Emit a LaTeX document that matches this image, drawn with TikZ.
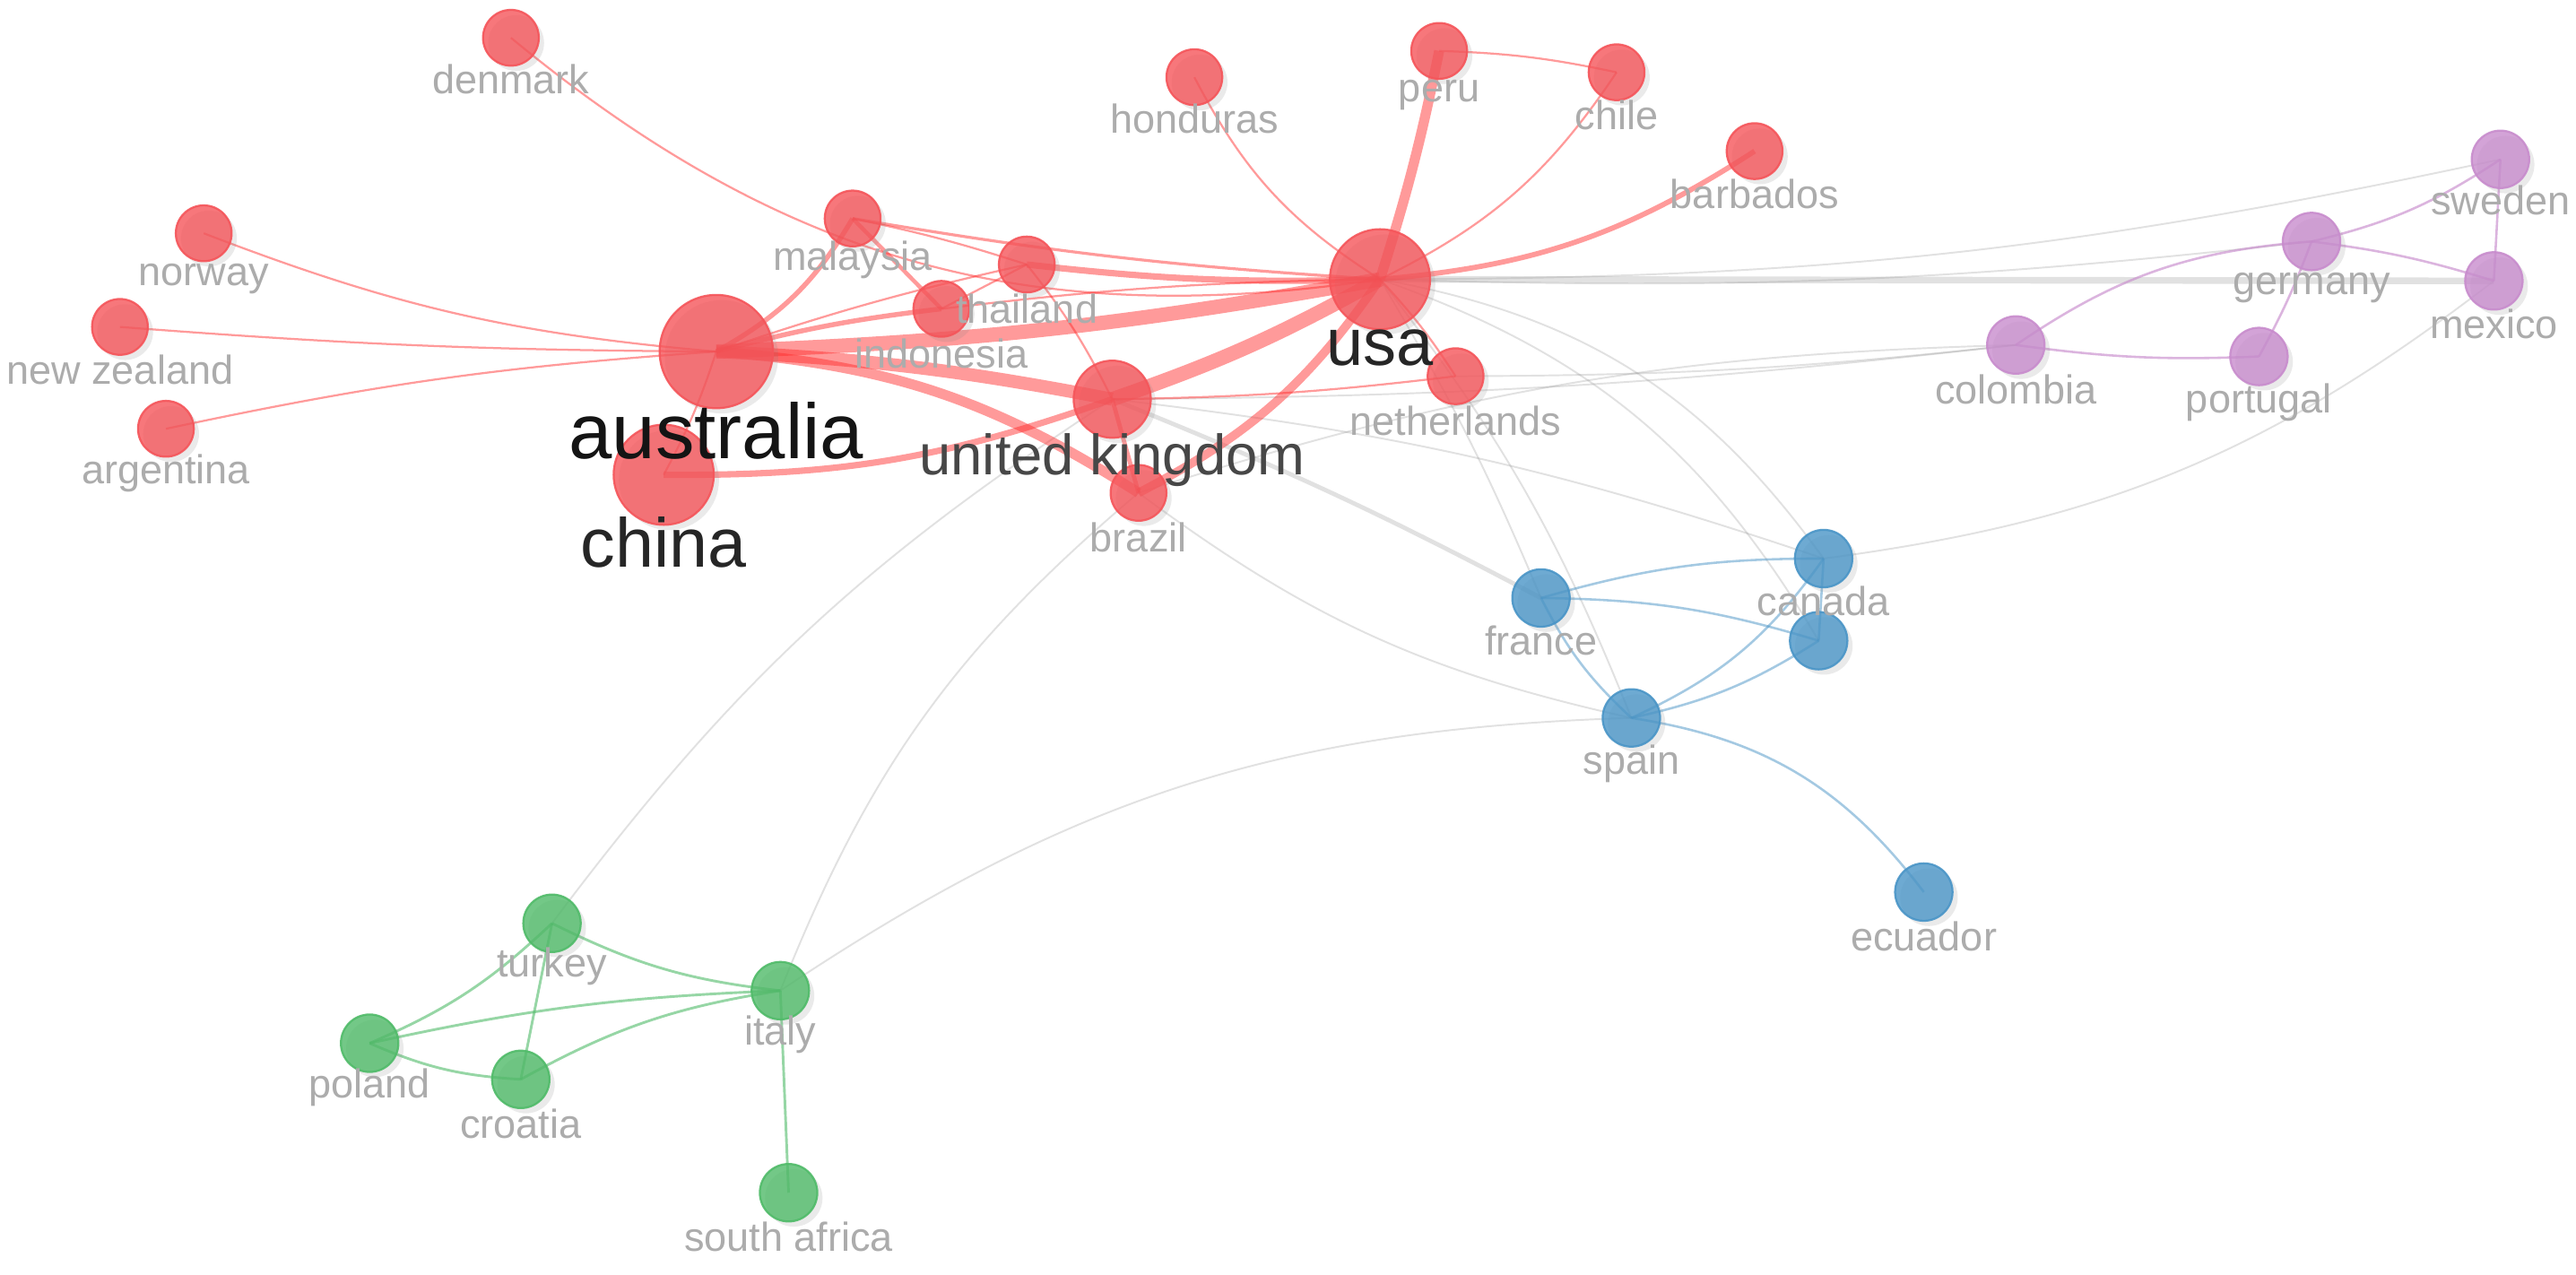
\documentclass[tikz,border=0pt]{standalone}
\usepackage{fontspec}
\setmainfont{Liberation Sans}
\usetikzlibrary{shadows}
\definecolor{nred}{RGB}{245,85,90}
\definecolor{npur}{RGB}{200,140,205}
\definecolor{nblu}{RGB}{74,149,199}
\definecolor{ngrn}{RGB}{80,187,105}
\definecolor{ered}{RGB}{255,45,45}
\definecolor{egry}{RGB}{140,140,140}
\definecolor{lgry}{RGB}{172,172,172}
\begin{document}
\begin{tikzpicture}[x=0.02cm,y=-0.02cm,
  cnode/.style={circle, inner sep=0pt, fill opacity=0.8, draw opacity=0.9, line width=0.7pt,
    drop shadow={shadow xshift=1.8pt,shadow yshift=-1.8pt,opacity=0.16}},
  rn/.style={cnode, fill=nred, draw=nred, minimum size=#1}, rn/.default=0.68cm,
  pn/.style={cnode, fill=npur, draw=npur, minimum size=0.7cm},
  bn/.style={cnode, fill=nblu, draw=nblu, minimum size=0.7cm},
  gn/.style={cnode, fill=ngrn, draw=ngrn, minimum size=0.7cm},
  lab/.style={text=lgry, font=\fontsize{14}{14}\selectfont, inner sep=0pt},
  redge/.style={draw=ered, draw opacity=0.48, line width=#1}, redge/.default=0.7pt,
  gedge/.style={draw=egry, draw opacity=0.26, line width=#1}, gedge/.default=0.6pt,
  pedge/.style={draw=npur, draw opacity=0.65, line width=0.8pt},
  bedge/.style={draw=nblu, draw opacity=0.5, line width=0.8pt},
  gnedge/.style={draw=ngrn, draw opacity=0.6, line width=0.9pt}
]
\fill[white] (0,0) rectangle (1568,776);
\useasboundingbox (0,0) rectangle (1568,776);

% ---- node coordinates ----
\path
 (311,23)  coordinate (c-den)
 (124,142) coordinate (c-nor)
 (73,199)  coordinate (c-nz)
 (101,261) coordinate (c-arg)
 (436,214) coordinate (c-aus)
 (404,289) coordinate (c-chn)
 (519,133) coordinate (c-mal)
 (625,161) coordinate (c-tha)
 (573,188) coordinate (c-ind)
 (677,243) coordinate (c-uk)
 (693,300) coordinate (c-bra)
 (840,170) coordinate (c-usa)
 (886,229) coordinate (c-ned)
 (727,47)  coordinate (c-hon)
 (876,31)  coordinate (c-per)
 (984,44)  coordinate (c-chl)
 (1068,92) coordinate (c-bar)
 (1522,97) coordinate (c-swe)
 (1407,147) coordinate (c-ger)
 (1518,171) coordinate (c-mex)
 (1227,210) coordinate (c-col)
 (1375,217) coordinate (c-por)
 (1110,340) coordinate (c-can)
 (938,364) coordinate (c-fra)
 (1107,390) coordinate (c-unk)
 (993,437) coordinate (c-spa)
 (1171,543) coordinate (c-ecu)
 (336,562) coordinate (c-tur)
 (475,603) coordinate (c-ita)
 (225,635) coordinate (c-pol)
 (317,657) coordinate (c-cro)
 (480,726) coordinate (c-saf);

% ---- gray inter-cluster edges ----
\draw[gedge=2.3pt] (c-usa) -- (c-mex);
\draw[gedge=1.5pt] (c-uk) to[bend left=3] (c-fra);
\draw[gedge] (c-usa) to[bend right=6] (c-swe);
\draw[gedge] (c-usa) to[bend right=4] (c-ger);
\draw[gedge] (c-usa) to[bend left=22] (c-can);
\draw[gedge] (c-usa) to[bend left=20] (c-unk);
\draw[gedge] (c-usa) to[bend left=8] (c-spa);
\draw[gedge] (c-usa) to[bend left=4] (c-fra);
\draw[gedge] (c-uk) to[bend right=3] (c-col);
\draw[gedge] (c-ned) to[bend right=3] (c-col);
\draw[gedge] (c-bra) to[bend left=8] (c-col);
\draw[gedge] (c-uk) to[bend left=6] (c-can);
\draw[gedge] (c-bra) to[bend right=12] (c-spa);
\draw[gedge] (c-ita) to[bend left=16] (c-spa);
\draw[gedge] (c-ita) to[bend left=14] (c-bra);
\draw[gedge] (c-tur) to[bend left=10] (c-uk);
\draw[gedge] (c-can) to[bend right=15] (c-mex);

% ---- purple edges ----
\draw[pedge] (c-ger) to[bend right=10] (c-swe);
\draw[pedge] (c-ger) to[bend left=5] (c-mex);
\draw[pedge] (c-swe) -- (c-mex);
\draw[pedge] (c-col) to[bend left=15] (c-ger);
\draw[pedge] (c-ger) to[bend left=4] (c-por);
\draw[pedge] (c-col) to[bend right=5] (c-por);

% ---- blue edges ----
\draw[bedge] (c-fra) to[bend left=8] (c-can);
\draw[bedge] (c-fra) to[bend left=8] (c-unk);
\draw[bedge] (c-fra) to[bend right=10] (c-spa);
\draw[bedge] (c-spa) to[bend right=15] (c-can);
\draw[bedge] (c-spa) to[bend right=10] (c-unk);
\draw[bedge] (c-can) -- (c-unk);
\draw[bedge] (c-spa) to[bend left=22] (c-ecu);

% ---- green edges ----
\draw[gnedge] (c-tur) to[bend right=10] (c-ita);
\draw[gnedge] (c-pol) to[bend right=10] (c-tur);
\draw[gnedge] (c-tur) -- (c-cro);
\draw[gnedge] (c-pol) to[bend left=5] (c-ita);
\draw[gnedge] (c-cro) to[bend left=10] (c-ita);
\draw[gnedge] (c-pol) to[bend right=10] (c-cro);
\draw[gnedge] (c-ita) -- (c-saf);

% ---- red edges ----
\draw[redge] (c-aus) to[bend left=8] (c-nor);
\draw[redge] (c-aus) to[bend left=2] (c-nz);
\draw[redge] (c-aus) to[bend right=4] (c-arg);
\draw[redge] (c-aus) to[bend left=5] (c-chn);
\draw[redge=1.7pt] (c-aus) to[bend right=15] (c-mal);
\draw[redge=1.7pt] (c-aus) to[bend left=4] (c-ind);
\draw[redge] (c-aus) to[bend left=3] (c-tha);
\draw[redge=5pt] (c-aus) to[bend right=4] (c-usa);
\draw[redge=4.5pt] (c-aus) to[bend left=4] (c-uk);
\draw[redge=3.5pt] (c-aus) to[bend left=14] (c-bra);
\draw[redge=2.2pt] (c-chn) to[bend right=10] (c-uk);
\draw[redge=5pt] (c-uk) to[bend right=5] (c-usa);
\draw[redge=3pt] (c-bra) to[bend right=14] (c-usa);
\draw[redge=1.5pt] (c-uk) -- (c-bra);
\draw[redge] (c-uk) to[bend right=3] (c-ned);
\draw[redge] (c-usa) to[bend left=5] (c-ned);
\draw[redge=3.5pt] (c-usa) to[bend right=3] (c-per);
\draw[redge] (c-usa) to[bend left=15] (c-hon);
\draw[redge] (c-usa) to[bend right=15] (c-chl);
\draw[redge=1.8pt] (c-usa) to[bend right=14] (c-bar);
\draw[redge] (c-per) to[bend left=5] (c-chl);
\draw[redge] (c-den) to[bend right=24] (c-usa);
\draw[redge=1.4pt] (c-mal) -- (c-ind);
\draw[redge] (c-mal) to[bend left=3] (c-tha);
\draw[redge=1pt] (c-mal) to[bend right=3] (c-usa);
\draw[redge=2.2pt] (c-tha) to[bend right=4] (c-usa);
\draw[redge] (c-ind) to[bend left=3] (c-usa);
\draw[redge] (c-ind) -- (c-tha);
\draw[redge] (c-tha) to[bend left=6] (c-uk);

% ---- nodes ----
\node[rn] (den) at (c-den) {};
\node[rn] (nor) at (c-nor) {};
\node[rn] (nz)  at (c-nz) {};
\node[rn] (arg) at (c-arg) {};
\node[rn=1.38cm] (aus) at (c-aus) {};
\node[rn=1.22cm] (chn) at (c-chn) {};
\node[rn] (mal) at (c-mal) {};
\node[rn] (tha) at (c-tha) {};
\node[rn] (ind) at (c-ind) {};
\node[rn=0.94cm] (uk) at (c-uk) {};
\node[rn] (bra) at (c-bra) {};
\node[rn=1.22cm] (usa) at (c-usa) {};
\node[rn] (ned) at (c-ned) {};
\node[rn] (hon) at (c-hon) {};
\node[rn] (per) at (c-per) {};
\node[rn] (chl) at (c-chl) {};
\node[rn] (bar) at (c-bar) {};
\node[pn] (swe) at (c-swe) {};
\node[pn] (ger) at (c-ger) {};
\node[pn] (mex) at (c-mex) {};
\node[pn] (col) at (c-col) {};
\node[pn] (por) at (c-por) {};
\node[bn] (can) at (c-can) {};
\node[bn] (fra) at (c-fra) {};
\node[bn] (unk) at (c-unk) {};
\node[bn] (spa) at (c-spa) {};
\node[bn] (ecu) at (c-ecu) {};
\node[gn] (tur) at (c-tur) {};
\node[gn] (ita) at (c-ita) {};
\node[gn] (pol) at (c-pol) {};
\node[gn] (cro) at (c-cro) {};
\node[gn] (saf) at (c-saf) {};

% ---- labels ----
\node[lab] (l-den) at (311,48) {denmark};
\node[lab] (l-nor) at (124,170) {norway};
\node[lab] (l-nz)  at (73,225) {new zealand};
\node[lab] (l-arg) at (101,288) {argentina};
\node[lab] (l-mal) at (519,158) {malaysia};
\node[lab] (l-tha) at (625,188) {thailand};
\node[lab] (l-ind) at (573,215) {indonesia};
\node[lab] (l-bra) at (693,327) {brazil};
\node[lab] (l-ned) at (886,256) {netherlands};
\node[lab] (l-hon) at (727,72) {honduras};
\node[lab] (l-per) at (876,58) {peru};
\node[lab] (l-chl) at (984,70) {chile};
\node[lab] (l-bar) at (1068,118) {barbados};
\node[lab] (l-swe) at (1522,122) {sweden};
\node[lab] (l-ger) at (1407,175) {germany};
\node[lab] (l-mex) at (1518,197) {mexico};
\node[lab] (l-col) at (1227,237) {colombia};
\node[lab] (l-por) at (1375,245) {portugal};
\node[lab] (l-can) at (1110,366) {canada};
\node[lab] (l-fra) at (938,390) {france};
\node[lab] (l-spa) at (993,465) {spain};
\node[lab] (l-ecu) at (1171,570) {ecuador};
\node[lab] (l-tur) at (336,588) {turkey};
\node[lab] (l-ita) at (475,630) {italy};
\node[lab] (l-pol) at (225,662) {poland};
\node[lab] (l-cro) at (317,684) {croatia};
\node[lab] (l-saf) at (480,753) {south africa};
\node[inner sep=0pt, text=black!92, font=\fontsize{27}{27}\selectfont] (l-aus) at (436,262) {australia};
\node[inner sep=0pt, text=black!85, font=\fontsize{24}{24}\selectfont] (l-chn) at (404,330) {china};
\node[inner sep=0pt, text=black!85, font=\fontsize{23}{23}\selectfont] (l-usa) at (840,212) {usa};
\node[inner sep=0pt, text=black!72, font=\fontsize{19.7}{20}\selectfont] (l-uk) at (677,280) {united kingdom};
\end{tikzpicture}
\end{document}
